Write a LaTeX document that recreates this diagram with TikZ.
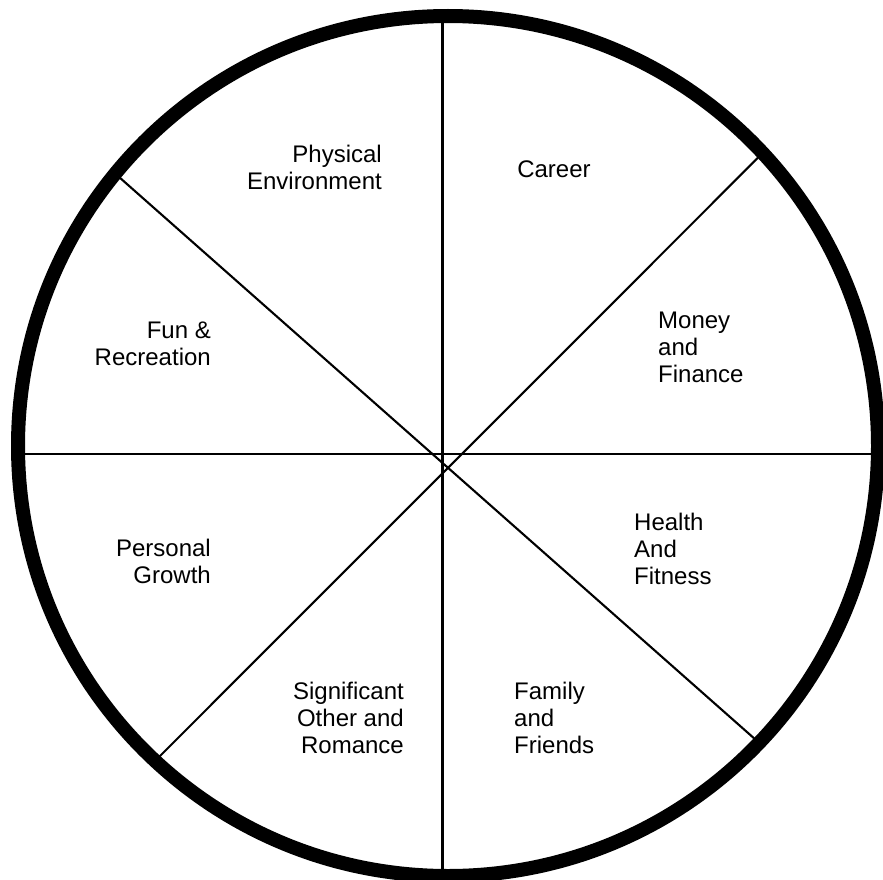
\documentclass[tikz,border=0pt]{standalone}
\usepackage{fontspec}
\setmainfont{Liberation Sans}
\begin{document}
\begin{tikzpicture}[x=1pt,y=-1pt,
  spoke/.style={line width=2.1pt,line cap=butt},
  ring/.style={line width=14pt},
  lbl/.style={inner sep=0pt,font=\fontsize{24}{27}\selectfont},
  lblL/.style={lbl,align=left,anchor=west},
  lblR/.style={lbl,align=right,anchor=east}]
\useasboundingbox (0,0) rectangle (883,880);
\coordinate (ctr) at (448,446);
\coordinate (vt) at (442.5,20);
\coordinate (vb) at (442.5,874);
\coordinate (hl) at (22,453.7);
\coordinate (hr) at (875,453.7);
\coordinate (aa) at (119,177);
\coordinate (ab) at (756,740);
\coordinate (ba) at (760.7,155);
\coordinate (bb) at (159,757);
\draw[spoke] (vt) -- (vb);
\draw[spoke] (hl) -- (hr);
\draw[spoke] (aa) -- (ab);
\draw[spoke] (ba) -- (bb);
\draw[ring] (ctr) circle[radius=430];
\node[lblR] (phys) at (382,167) {Physical\\Environment};
\node[lbl] (car) at (554,169.5) {Career};
\node[lblL] (mon) at (658,347.4) {Money\\and\\Finance};
\node[lblR] (fun) at (211,344) {Fun \&\\Recreation};
\node[lblR] (pers) at (211,561.7) {Personal\\Growth};
\node[lblL] (hlth) at (634,549) {Health\\And\\Fitness};
\node[lblR] (sig) at (404,718) {Significant\\Other and\\Romance};
\node[lblL] (fam) at (514,718) {Family\\and\\Friends};
\end{tikzpicture}
\end{document}
